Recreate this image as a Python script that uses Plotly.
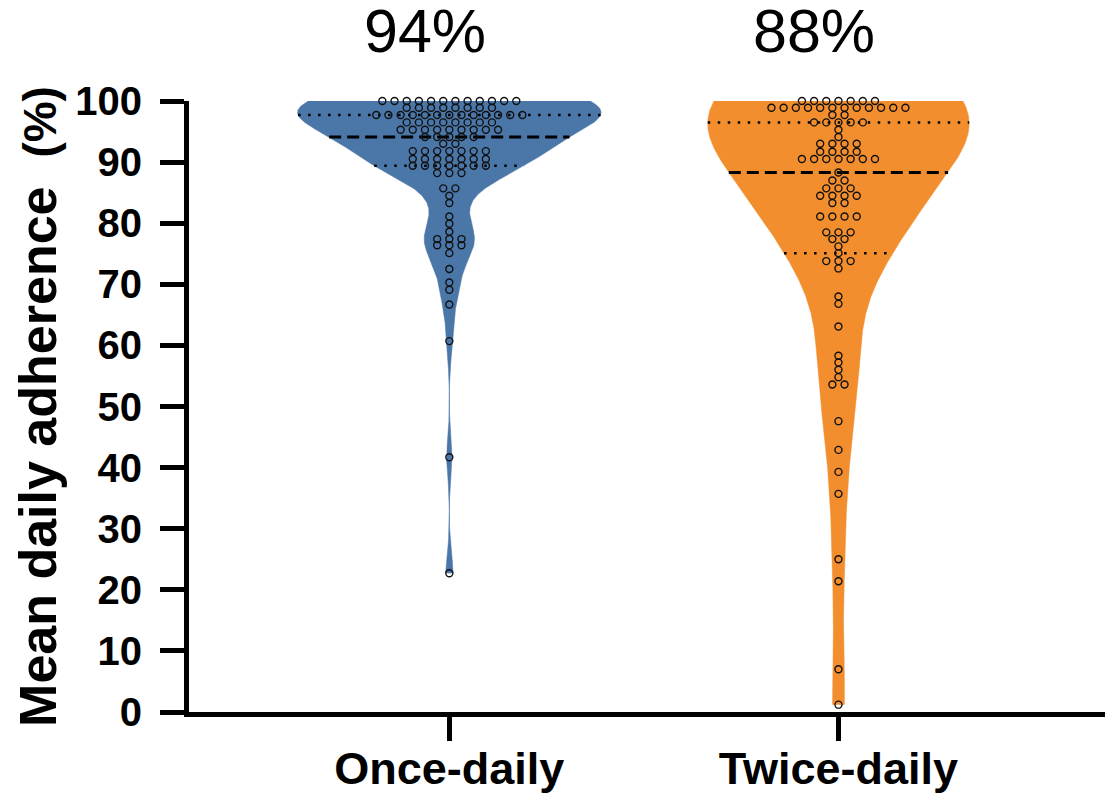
import numpy as np
import plotly.graph_objects as go

# ---------------- data ----------------
categories = ["Once-daily", "Twice-daily"]

once_daily = [
    100.0, 100.0, 100.0, 100.0, 100.0, 100.0, 100.0, 100.0, 100.0, 100.0, 100.0, 100.0,
    98.9, 98.9, 98.9, 98.9, 98.9, 98.9, 98.9, 98.9,
    97.7, 97.7, 97.7, 97.7, 97.7, 97.7, 97.7, 97.7, 97.7, 97.7, 97.7, 97.7, 97.7,
    96.5, 96.5, 96.5, 96.5, 96.5, 96.5, 96.5, 96.5,
    95.3, 95.3, 95.3, 95.3, 95.3, 95.3, 95.3, 95.3, 95.3,
    94.1, 94.1, 94.1, 94.1, 94.1,
    93.0, 93.0,
    91.8, 91.8, 91.8, 91.8, 91.8, 91.8, 91.8,
    90.5, 90.5, 90.5, 90.5, 90.5, 90.5, 90.5,
    89.4, 89.4, 89.4, 89.4, 89.4, 89.4, 89.4,
    88.2, 88.2, 88.2,
    85.7, 85.7,
    84.5, 83.3, 81.1, 79.9, 78.6,
    77.4, 77.4, 77.4,
    76.4, 76.4, 76.4,
    75.1, 72.5, 70.3, 69.1, 66.7, 60.7, 41.7, 22.7,
]

twice_daily = [
    100.0, 100.0, 100.0, 100.0, 100.0, 100.0, 100.0,
    98.9, 98.9, 98.9, 98.9, 98.9, 98.9, 98.9, 98.9, 98.9, 98.9, 98.9, 98.9,
    97.7, 97.7,
    96.5, 96.5, 96.5, 96.5, 96.5,
    95.3, 94.1,
    93.0, 93.0, 93.0, 93.0,
    91.7, 91.7, 91.7, 91.7,
    90.5, 90.5, 90.5, 90.5, 90.5, 90.5, 90.5,
    88.3,
    87.0, 87.0,
    85.7, 85.7, 85.7,
    84.5, 84.5, 84.5, 84.5,
    83.3, 83.3,
    81.1, 81.1, 81.1, 81.1,
    78.5, 78.5, 78.5,
    77.4, 77.4,
    76.2, 75.1,
    73.8, 73.8, 73.8,
    72.6, 68.0, 66.8, 63.1,
    58.3, 57.2, 56.0, 54.8,
    53.6, 53.6,
    47.6, 42.9, 39.3, 35.7, 25.0, 21.4, 7.0, 1.2,
]

y_ticks = [0, 10, 20, 30, 40, 50, 60, 70, 80, 90, 100]

# ---------------- style ----------------
colors = ["#4A76A8", "#F28E2E"]
max_half_width = [0.39, 0.336]   # half width of each violin (x units)
dot_step = 0.0313                # horizontal spacing of swarm dots
edge_weight = 0.4                # partial boundary reflection of the smoothing
bw_factor = 1.2                  # smoothing multiplier
FONT = "Liberation Sans, Arial, Helvetica, sans-serif"


def silverman_bw(v):
    v = np.asarray(v, dtype=float)
    std = v.std(ddof=1)
    q75, q25 = np.percentile(v, [75, 25])
    return bw_factor * 1.059 * min(std, (q75 - q25) / 1.349) * len(v) ** -0.2


def density(v, grid, bw):
    v = np.asarray(v, dtype=float)
    lo, hi = v.min(), v.max()
    total = np.zeros_like(grid, dtype=float)
    for pts, wgt in [(v, 1.0), (2 * hi - v, edge_weight), (2 * lo - v, edge_weight)]:
        z = (grid[:, None] - pts[None, :]) / bw
        total += wgt * np.exp(-0.5 * z ** 2).sum(axis=1)
    return total


fig = go.Figure()
groups = [once_daily, twice_daily]

for i, vals in enumerate(groups):
    v = np.asarray(vals, dtype=float)
    bw = silverman_bw(v)
    grid = np.linspace(v.min(), v.max(), 600)
    d = density(v, grid, bw)
    dmax = d.max()
    hw = max_half_width[i] * d / dmax

    def half_at(y):
        return max_half_width[i] * density(v, np.array([y]), bw)[0] / dmax

    # violin body
    xs = np.concatenate([i + hw, (i - hw)[::-1]])
    ys = np.concatenate([grid, grid[::-1]])
    fig.add_trace(go.Scatter(
        x=xs, y=ys, mode="lines", fill="toself", fillcolor=colors[i],
        line=dict(color=colors[i], width=0.5), hoverinfo="skip", showlegend=False,
    ))

    # median and quartiles
    q1, med, q3 = np.percentile(v, [25, 50, 75], method="weibull")
    for val, dash, w in [(q3, "2.5px,7.5px", 2.5), (q1, "2.5px,7.5px", 2.5), (med, "12px,6px", 3)]:
        h = half_at(val)
        fig.add_trace(go.Scatter(
            x=[i - h, i + h], y=[val, val], mode="lines",
            line=dict(color="black", width=w, dash=dash),
            hoverinfo="skip", showlegend=False,
        ))

    # swarm points
    px, py = [], []
    uniq, counts = np.unique(v, return_counts=True)
    for val, k in zip(uniq, counts):
        for j in range(k):
            px.append(i + (j - (k - 1) / 2) * dot_step)
            py.append(val)
    fig.add_trace(go.Scatter(
        x=px, y=py, mode="markers",
        marker=dict(symbol="circle-open", size=7, color="#111111", line=dict(width=1.4)),
        cliponaxis=False, hoverinfo="skip", showlegend=False,
    ))

    # median annotation on top
    fig.add_annotation(
        x=i - 0.062, xref="x", y=1.115, yref="paper",
        text=f"{np.median(v):.0f}%", showarrow=False,
        font=dict(family=FONT, size=61, color="black"),
        xanchor="center", yanchor="middle",
    )

fig.update_layout(
    width=1107, height=794,
    margin=dict(l=189, r=2, t=101, b=82),
    paper_bgcolor="white", plot_bgcolor="white",
    font=dict(family=FONT, color="black"),
    showlegend=False,
    xaxis=dict(
        range=[-0.669, 1.685], tickmode="array", tickvals=[0, 1], ticktext=categories,
        ticks="outside", ticklen=24, tickwidth=5, tickcolor="black",
        showline=True, linewidth=5, linecolor="black",
        showgrid=False, zeroline=False, automargin=False,
        ticklabelstandoff=-11,
        tickfont=dict(family=FONT, size=45, color="black", weight="bold"),
    ),
    yaxis=dict(
        range=[0, 100], tickmode="array", tickvals=y_ticks,
        ticks="outside", ticklen=24, tickwidth=5, tickcolor="black",
        showline=True, linewidth=5, linecolor="black",
        showgrid=False, zeroline=False, automargin=False,
        ticklabelstandoff=10,
        tickfont=dict(family=FONT, size=40, color="black", weight="bold"),
        title=dict(
            text="Mean daily adherence&nbsp;&nbsp;<span style='font-size:46px'>(%)</span>",
            font=dict(family=FONT, size=52, color="black", weight="bold"),
            standoff=4,
        ),
    ),
)

fig.write_html(
    "out.html",
    config={"displayModeBar": False},
    post_script="document.body.style.margin='0';document.body.style.padding='0';",
)
